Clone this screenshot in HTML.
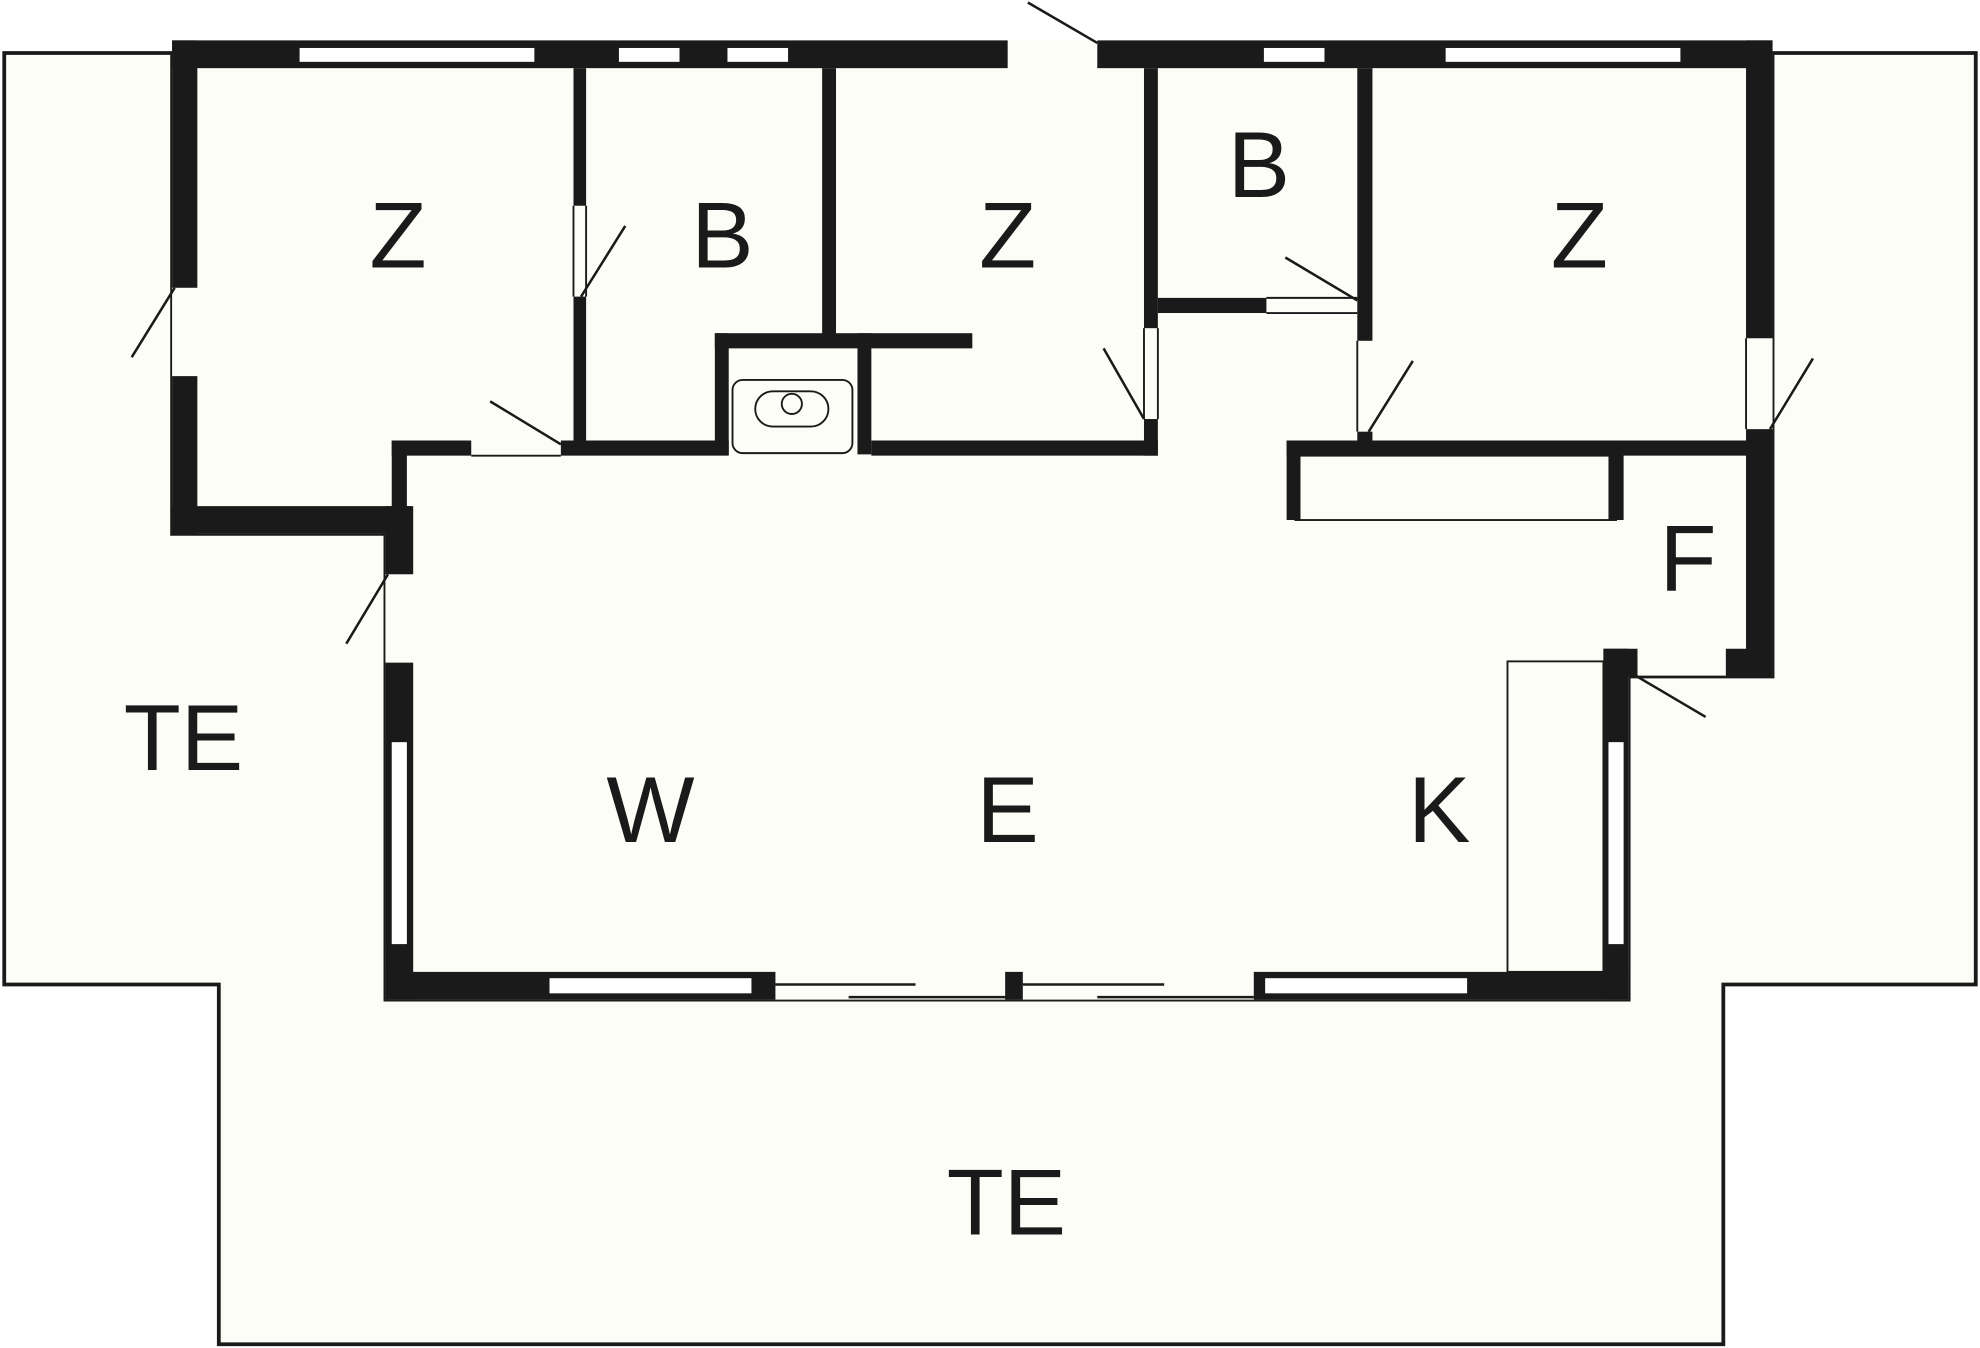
<!DOCTYPE html>
<html><head><style>html,body{margin:0;padding:0;background:#fff;}svg{display:block}</style></head>
<body>
<svg width="1980" height="1348" viewBox="0 0 1568 1068" xmlns="http://www.w3.org/2000/svg">
<rect width="1568" height="1068" fill="#fff"/>
<!-- terrace outline -->
<polygon points="3,42 136,42 136,423 305,423 305,792 1290,792 1290,536 1404,536 1404,42 1565,42 1565,780 1365,780 1365,1065 173,1065 173,780 3,780" fill="#fdfdf7" stroke="#1a1a1a" stroke-width="3"/>
<!-- interior fill -->
<polygon points="136,32 1404,32 1404,536 1290,536 1290,792 305,792 305,423 136,423" fill="#fdfdf7"/>
<g fill="#1a1a1a">
<rect x="136" y="32" width="662" height="22"/>
<rect x="869" y="32" width="535" height="22"/>
<rect x="136" y="32" width="20" height="196"/>
<rect x="136" y="298" width="20" height="125"/>
<rect x="136" y="401" width="189" height="22"/>
<rect x="454" y="54" width="10" height="109"/>
<rect x="454" y="235" width="10" height="125"/>
<rect x="651" y="54" width="11" height="221"/>
<rect x="566" y="264" width="204" height="12"/>
<rect x="566" y="264" width="11" height="96"/>
<rect x="679" y="264" width="11" height="96"/>
<rect x="310" y="349" width="63" height="12"/>
<rect x="444" y="349" width="133" height="12"/>
<rect x="690" y="349" width="227" height="12"/>
<rect x="310" y="349" width="12" height="60"/>
<rect x="305" y="401" width="22" height="54"/>
<rect x="305" y="525" width="22" height="267"/>
<rect x="305" y="770" width="309" height="22"/>
<rect x="796" y="770" width="14" height="22"/>
<rect x="993" y="770" width="297" height="22"/>
<rect x="906" y="54" width="11" height="206"/>
<rect x="906" y="332" width="11" height="29"/>
<rect x="917" y="236" width="86" height="12"/>
<rect x="1075" y="54" width="12" height="216"/>
<rect x="1075" y="342" width="12" height="19"/>
<rect x="1383" y="32" width="21" height="236"/>
<rect x="1383" y="340" width="21" height="196"/>
<rect x="1019" y="349" width="385" height="12"/>
<rect x="1019" y="349" width="11" height="63"/>
<rect x="1274" y="349" width="12" height="63"/>
<rect x="1270" y="514" width="27" height="22"/>
<rect x="1367" y="514" width="37" height="22"/>
<rect x="1270" y="514" width="20" height="278"/>
</g>
<g fill="#fff">
<rect x="237" y="38" width="186" height="11"/>
<rect x="490" y="38" width="48" height="11"/>
<rect x="576" y="38" width="48" height="11"/>
<rect x="1001" y="38" width="48" height="11"/>
<rect x="1145" y="38" width="186" height="11"/>
<rect x="310" y="588" width="12" height="160"/>
<rect x="1274" y="588" width="12" height="160"/>
<rect x="435" y="775" width="160" height="12"/>
<rect x="1002" y="775" width="160" height="12"/>
</g>
<g fill="none" stroke="#1a1a1a" stroke-width="1.5">
<rect x="1026" y="361" width="254" height="51"/>
<rect x="1194" y="524" width="76" height="246"/>
<rect x="580" y="301" width="95" height="58" rx="8"/>
<rect x="598" y="310" width="58" height="28" rx="14"/>
<circle cx="627" cy="320" r="8"/>
<line x1="373" y1="361" x2="444" y2="361"/>
<line x1="1003" y1="236" x2="1075" y2="236"/>
<line x1="1003" y1="248" x2="1075" y2="248"/>
<line x1="1297" y1="536" x2="1367" y2="536"/>
<line x1="454" y1="163" x2="454" y2="235"/>
<line x1="464" y1="163" x2="464" y2="235"/>
<line x1="906" y1="260" x2="906" y2="332"/>
<line x1="917" y1="260" x2="917" y2="332"/>
<line x1="1075" y1="270" x2="1075" y2="342"/>
<line x1="1383" y1="268" x2="1383" y2="340"/>
</g>
<g stroke="#1a1a1a" stroke-width="2">
<line x1="814" y1="2" x2="869" y2="34"/>
<line x1="104" y1="283" x2="138" y2="228"/>
<line x1="460" y1="235" x2="495" y2="179"/>
<line x1="388" y1="318" x2="444" y2="352"/>
<line x1="274" y1="510" x2="307" y2="455"/>
<line x1="874" y1="276" x2="906" y2="332"/>
<line x1="1018" y1="204" x2="1075" y2="238"/>
<line x1="1084" y1="342" x2="1119" y2="286"/>
<line x1="1402" y1="340" x2="1436" y2="284"/>
<line x1="1295" y1="535" x2="1351" y2="568"/>
<line x1="614" y1="780" x2="725" y2="780"/>
<line x1="672" y1="790" x2="798" y2="790"/>
<line x1="810" y1="780" x2="922" y2="780"/>
<line x1="869" y1="790" x2="993" y2="790"/>
</g>
<g font-family="Liberation Sans, sans-serif" font-size="74" fill="#1a1a1a" text-anchor="middle">
<text x="315" y="212">Z</text>
<text x="572" y="212">B</text>
<text x="798" y="212">Z</text>
<text x="997" y="156">B</text>
<text x="1251" y="212">Z</text>
<text x="1337" y="468">F</text>
<text x="145" y="610">TE</text>
<text x="515" y="667">W</text>
<text x="798" y="667">E</text>
<text x="1140" y="667">K</text>
<text x="797" y="978">TE</text>
</g>
</svg>
</body></html>
